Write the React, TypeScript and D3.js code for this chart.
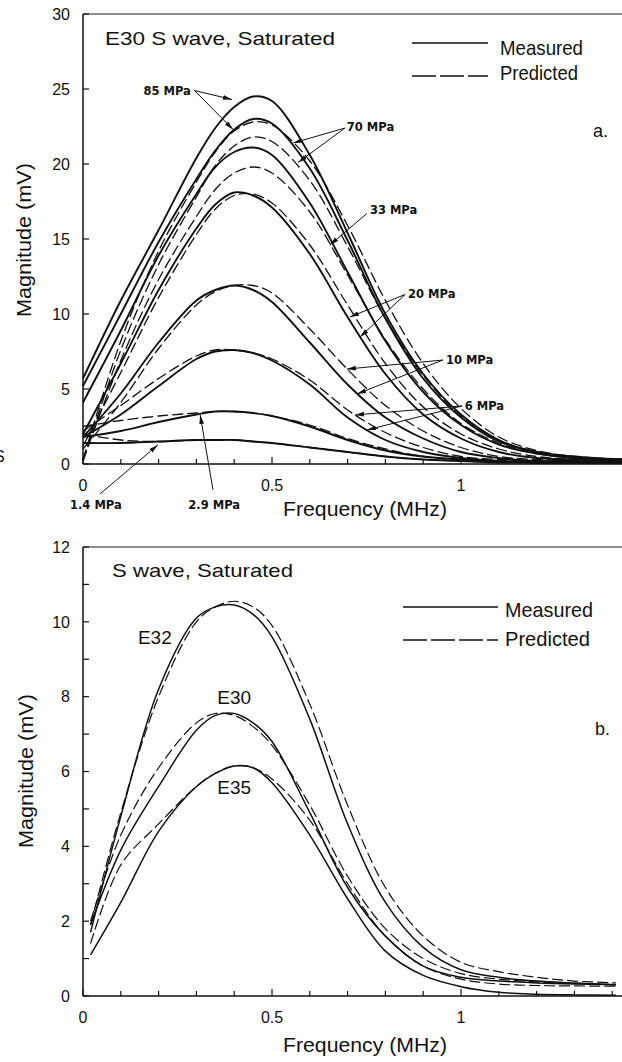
import React from "react";
import * as d3 from "d3";

// ---- panel a: E30, S wave, saturated, at several confining pressures ----
const FREQ_A = [0, 0.1, 0.2, 0.3, 0.35, 0.4, 0.45, 0.5, 0.6, 0.7, 0.8, 0.9, 1.0, 1.1, 1.2, 1.3, 1.43];

const A_85_MEAS = [5.7, 10.9, 15.6, 20.4, 22.4, 23.8, 24.5, 24.2, 20.6, 15.4, 10.0, 6.0, 3.3, 1.6, 0.8, 0.5, 0.3];
const A_85_PRED = [0.3, 8.2, 14.2, 18.8, 20.8, 22.2, 22.8, 22.6, 20.2, 15.9, 10.9, 6.7, 3.7, 1.8, 0.9, 0.5, 0.3];
const A_70_MEAS = [5.2, 10.0, 14.8, 19.0, 20.9, 22.3, 23.0, 22.7, 19.7, 14.9, 9.7, 5.7, 3.1, 1.5, 0.8, 0.4, 0.3];
const A_70_PRED = [0.2, 7.6, 13.3, 17.8, 19.9, 21.2, 21.8, 21.5, 18.9, 14.5, 9.7, 5.9, 3.2, 1.6, 0.8, 0.4, 0.3];
const A_33_MEAS = [4.1, 8.9, 13.9, 18.0, 19.8, 20.8, 21.1, 20.6, 17.4, 12.8, 8.2, 4.8, 2.6, 1.3, 0.7, 0.4, 0.3];
const A_33_PRED = [0.2, 6.9, 12.3, 16.5, 18.3, 19.4, 19.8, 19.4, 16.8, 12.6, 8.3, 5.0, 2.7, 1.4, 0.7, 0.4, 0.3];
const A_20_MEAS = [2.0, 6.7, 11.6, 15.7, 17.3, 18.1, 17.9, 17.1, 14.0, 9.8, 6.0, 3.3, 1.7, 0.8, 0.4, 0.3, 0.2];
const A_20_PRED = [1.2, 6.1, 11.1, 15.3, 17.0, 17.9, 18.0, 17.4, 14.6, 10.6, 6.7, 3.8, 2.0, 1.0, 0.5, 0.3, 0.2];
const A_10_MEAS = [1.8, 4.7, 8.1, 10.9, 11.6, 11.9, 11.6, 10.8, 8.1, 5.3, 3.1, 1.7, 0.8, 0.4, 0.2, 0.2, 0.1];
const A_10_PRED = [1.0, 4.1, 7.7, 10.6, 11.5, 11.9, 11.9, 11.4, 9.0, 6.3, 3.9, 2.2, 1.1, 0.5, 0.3, 0.2, 0.1];
const A_6_MEAS = [1.8, 3.3, 5.2, 7.0, 7.5, 7.6, 7.4, 6.9, 5.3, 3.1, 1.6, 0.8, 0.4, 0.2, 0.1, 0.1, 0.1];
const A_6_PRED = [2.2, 3.9, 5.7, 7.2, 7.6, 7.6, 7.4, 7.0, 5.6, 3.6, 2.1, 1.1, 0.5, 0.3, 0.2, 0.1, 0.1];
const A_2_9_MEAS = [1.8, 2.2, 2.8, 3.3, 3.5, 3.5, 3.4, 3.2, 2.5, 1.6, 0.9, 0.5, 0.3, 0.2, 0.1, 0.1, 0.1];
const A_2_9_PRED = [2.5, 2.9, 3.2, 3.4, 3.5, 3.5, 3.4, 3.2, 2.6, 1.7, 1.0, 0.5, 0.3, 0.2, 0.1, 0.1, 0.1];
const A_1_4_MEAS = [1.4, 1.4, 1.5, 1.6, 1.6, 1.6, 1.5, 1.4, 1.1, 0.8, 0.5, 0.3, 0.2, 0.1, 0.1, 0.1, 0.1];
const A_1_4_PRED = [2.0, 1.6, 1.5, 1.6, 1.6, 1.6, 1.5, 1.4, 1.1, 0.8, 0.5, 0.3, 0.2, 0.1, 0.1, 0.1, 0.1];

// ---- panel b: three samples, S wave, saturated ----
const FREQ_B = [0.02, 0.1, 0.2, 0.3, 0.35, 0.4, 0.45, 0.5, 0.6, 0.7, 0.8, 0.9, 1.0, 1.1, 1.2, 1.3, 1.41];

const B_E32_MEAS = [1.7, 4.8, 8.2, 10.1, 10.4, 10.45, 10.2, 9.6, 7.4, 4.6, 2.5, 1.3, 0.7, 0.5, 0.4, 0.35, 0.3];
const B_E32_PRED = [1.9, 4.9, 8.0, 10.0, 10.4, 10.55, 10.4, 9.9, 7.8, 5.1, 2.9, 1.6, 0.9, 0.65, 0.5, 0.4, 0.35];
const B_E30_MEAS = [1.9, 3.9, 5.6, 7.1, 7.5, 7.55, 7.3, 6.8, 4.9, 2.9, 1.6, 0.8, 0.5, 0.4, 0.35, 0.32, 0.3];
const B_E30_PRED = [2.0, 4.3, 6.1, 7.3, 7.55, 7.5, 7.2, 6.7, 5.1, 3.2, 1.8, 1.0, 0.6, 0.45, 0.38, 0.34, 0.3];
const B_E35_MEAS = [1.1, 2.5, 4.4, 5.6, 5.95, 6.15, 6.1, 5.7, 4.3, 2.6, 1.2, 0.55, 0.25, 0.1, 0.05, 0.03, 0.02];
const B_E35_PRED = [1.4, 3.5, 4.6, 5.6, 5.95, 6.15, 6.1, 5.8, 4.7, 3.0, 1.6, 0.8, 0.45, 0.32, 0.28, 0.27, 0.26];

const X_TICKS = d3.range(0, 16).map((i) => i / 10);
const X_LABELS = [0, 0.5, 1];
const Y_TICKS_A = [0, 5, 10, 15, 20, 25, 30];
const Y_TICKS_B = d3.range(0, 13);
const Y_LABELS_B = [0, 2, 4, 6, 8, 10, 12];

type Series = { measured: boolean; values: number[] };

const SERIES_A: Series[] = [
  { measured: true, values: A_85_MEAS },
  { measured: false, values: A_85_PRED },
  { measured: true, values: A_70_MEAS },
  { measured: false, values: A_70_PRED },
  { measured: true, values: A_33_MEAS },
  { measured: false, values: A_33_PRED },
  { measured: true, values: A_20_MEAS },
  { measured: false, values: A_20_PRED },
  { measured: true, values: A_10_MEAS },
  { measured: false, values: A_10_PRED },
  { measured: true, values: A_6_MEAS },
  { measured: false, values: A_6_PRED },
  { measured: true, values: A_2_9_MEAS },
  { measured: false, values: A_2_9_PRED },
  { measured: true, values: A_1_4_MEAS },
  { measured: false, values: A_1_4_PRED },
];

const SERIES_B: Series[] = [
  { measured: true, values: B_E32_MEAS },
  { measured: false, values: B_E32_PRED },
  { measured: true, values: B_E30_MEAS },
  { measured: false, values: B_E30_PRED },
  { measured: true, values: B_E35_MEAS },
  { measured: false, values: B_E35_PRED },
];

// pressure call-outs in panel a, in data units (text at t, arrows from `from` to each tip)
const PRESSURE_NOTES = [
  { text: "85 MPa", anchor: "start", t: [0.16, 24.6], from: [0.295, 24.9], tips: [[0.394, 24.3], [0.397, 22.3]] },
  { text: "70 MPa", anchor: "start", t: [0.698, 22.2], from: [0.693, 22.4], tips: [[0.556, 21.4], [0.569, 20.1]] },
  { text: "33 MPa", anchor: "start", t: [0.759, 16.65], from: [0.751, 16.7], tips: [[0.653, 14.6]] },
  { text: "20 MPa", anchor: "start", t: [0.86, 11.1], from: [0.852, 11.3], tips: [[0.706, 9.8], [0.733, 8.47]] },
  { text: "10 MPa", anchor: "start", t: [0.96, 6.65], from: [0.952, 6.93], tips: [[0.698, 6.33], [0.725, 4.67]] },
  { text: "6 MPa", anchor: "start", t: [1.01, 3.6], from: [1.003, 3.87], tips: [[0.72, 3.27], [0.751, 2.27]] },
  { text: "1.4 MPa", anchor: "middle", t: [0.034, -3.0], from: [0.045, -2.0], tips: [[0.198, 1.27]] },
  { text: "2.9 MPa", anchor: "middle", t: [0.347, -3.0], from: [0.344, -1.73], tips: [[0.31, 3.27]] },
];

const SAMPLE_NOTES = [
  { text: "E32", t: [0.19, 9.4] },
  { text: "E30", t: [0.4, 7.8] },
  { text: "E35", t: [0.4, 5.4] },
];

const FONT = "'Liberation Sans', Arial, Helvetica, sans-serif";
const DASH = "11,4";

const fmt = (d: number) => (d === 0 ? "0" : d3.format("~g")(d));

function Panel({ x, y, freq, series, yTicks, yLabels, yMax, measW, predW, xLabelDy, yTitleX, titleY, xTitleY }: any) {
  const line = d3
    .line<number>()
    .x((_, i) => x(freq[i]))
    .y((d) => y(d))
    .curve(d3.curveCatmullRom.alpha(0.5));
  const x0 = x(0);
  const y0 = y(0);
  const yTop = y(yMax);
  return (
    <g>
      {/* frame */}
      <line x1={x0} x2={622} y1={yTop} y2={yTop} stroke="#222" strokeWidth={1.2} />
      <line x1={x0} x2={x0} y1={yTop} y2={y0} stroke="#111" strokeWidth={1.5} />
      <line x1={x0} x2={622} y1={y0} y2={y0} stroke="#111" strokeWidth={1.5} />
      {X_TICKS.map((t) => {
        const major = Math.abs(t * 2 - Math.round(t * 2)) < 1e-6;
        return (
          <line key={"xt" + t} x1={x(t)} x2={x(t)} y1={y0} y2={y0 - (major ? 7 : 5)} stroke="#111" strokeWidth={1.2} />
        );
      })}
      {X_LABELS.map((t) => (
        <text key={"xl" + t} x={x(t)} y={y0 + xLabelDy} textAnchor="middle" fontSize={16} fill="#111">
          {fmt(t)}
        </text>
      ))}
      {yTicks.map((t: number) => (
        <line key={"yt" + t} x1={x0} x2={x0 + 6} y1={y(t)} y2={y(t)} stroke="#111" strokeWidth={1.2} />
      ))}
      {yLabels.map((t: number) => (
        <text key={"yl" + t} x={70} y={y(t)} dy="0.36em" textAnchor="end" fontSize={16} fill="#111">
          {fmt(t)}
        </text>
      ))}
      <text x={365} y={xTitleY} textAnchor="middle" fontSize={21} textLength={164} lengthAdjust="spacingAndGlyphs" fill="#111">
        Frequency  (MHz)
      </text>
      <text
        transform={`translate(${yTitleX},${titleY}) rotate(-90)`}
        textAnchor="middle"
        fontSize={21}
        textLength={154}
        lengthAdjust="spacingAndGlyphs"
        fill="#111"
      >
        Magnitude (mV)
      </text>
      {series.map((s: Series, i: number) => (
        <path
          key={"s" + i}
          d={line(s.values) || ""}
          fill="none"
          stroke="#111"
          strokeWidth={s.measured ? measW : predW}
          strokeDasharray={s.measured ? undefined : DASH}
        />
      ))}
    </g>
  );
}

function Legend({ x1, x2, ySolid, yDash, tx, yMeas, yPred, wMeas, wPred }: any) {
  return (
    <g fill="#111">
      <line x1={x1} x2={x2} y1={ySolid} y2={ySolid} stroke="#111" strokeWidth={1.6} />
      <line x1={x1} x2={x2} y1={yDash} y2={yDash} stroke="#111" strokeWidth={1.3} strokeDasharray="24,4" />
      <text x={tx} y={yMeas} fontSize={21} textLength={wMeas} lengthAdjust="spacingAndGlyphs">
        Measured
      </text>
      <text x={tx} y={yPred} fontSize={21} textLength={wPred} lengthAdjust="spacingAndGlyphs">
        Predicted
      </text>
    </g>
  );
}

export default function App() {
  const xA = d3.scaleLinear().domain([0, 1.5]).range([83, 650]);
  const yA = d3.scaleLinear().domain([0, 30]).range([464, 14]);
  const xB = d3.scaleLinear().domain([0, 1.5]).range([83, 650]);
  const yB = d3.scaleLinear().domain([0, 12]).range([996, 547]);

  return (
    <div style={{ position: "absolute", left: 0, top: 0 }}>
      <svg width={622} height={1062} fontFamily={FONT} style={{ display: "block", background: "#fff" }}>
        <defs>
          <marker
            id="arrow"
            markerUnits="userSpaceOnUse"
            markerWidth={10}
            markerHeight={6}
            refX={9}
            refY={3}
            orient="auto"
          >
            <path d="M0,0.6 L9,3 L0,5.4 z" fill="#111" />
          </marker>
        </defs>

        <Panel
          x={xA}
          y={yA}
          freq={FREQ_A}
          series={SERIES_A}
          yTicks={Y_TICKS_A}
          yLabels={Y_TICKS_A}
          yMax={30}
          measW={1.9}
          predW={1.3}
          xLabelDy={27}
          yTitleX={31}
          titleY={240}
          xTitleY={516}
        />
        <text x={105} y={45} fontSize={18.5} textLength={230} lengthAdjust="spacingAndGlyphs" fill="#111">
          E30 S  wave, Saturated
        </text>
        <Legend x1={412} x2={488} ySolid={43} yDash={76} tx={500} yMeas={55} yPred={80} wMeas={83} wPred={78} />
        <text x={593} y={137} fontSize={18} fill="#111">
          a.
        </text>
        {PRESSURE_NOTES.map((n) => (
          <g key={n.text}>
            {n.tips.map((tp, i) => (
              <line
                key={i}
                x1={xA(n.from[0])}
                y1={yA(n.from[1])}
                x2={xA(tp[0])}
                y2={yA(tp[1])}
                stroke="#111"
                strokeWidth={1}
                markerEnd="url(#arrow)"
              />
            ))}
            <text
              x={xA(n.t[0])}
              y={yA(n.t[1])}
              textAnchor={n.anchor as any}
              fontSize={11.5}
              fontWeight="bold"
              fontFamily="'DejaVu Sans', sans-serif"
              fill="#111"
            >
              {n.text}
            </text>
          </g>
        ))}
        <text x={-6} y={462} fontSize={16} fill="#111">
          S
        </text>

        <Panel
          x={xB}
          y={yB}
          freq={FREQ_B}
          series={SERIES_B}
          yTicks={Y_TICKS_B}
          yLabels={Y_LABELS_B}
          yMax={12}
          measW={1.5}
          predW={1.2}
          xLabelDy={27}
          yTitleX={33}
          titleY={771}
          xTitleY={1052}
        />
        <text x={112} y={577} fontSize={19} textLength={181} lengthAdjust="spacingAndGlyphs" fill="#111">
          S  wave, Saturated
        </text>
        <Legend x1={403} x2={498} ySolid={607} yDash={640} tx={505} yMeas={617} yPred={646} wMeas={88} wPred={85} />
        <text x={595} y={735} fontSize={18} fill="#111">
          b.
        </text>
        {SAMPLE_NOTES.map((n) => (
          <text key={n.text} x={xB(n.t[0])} y={yB(n.t[1])} textAnchor="middle" fontSize={19} fill="#111">
            {n.text}
          </text>
        ))}
      </svg>
    </div>
  );
}
